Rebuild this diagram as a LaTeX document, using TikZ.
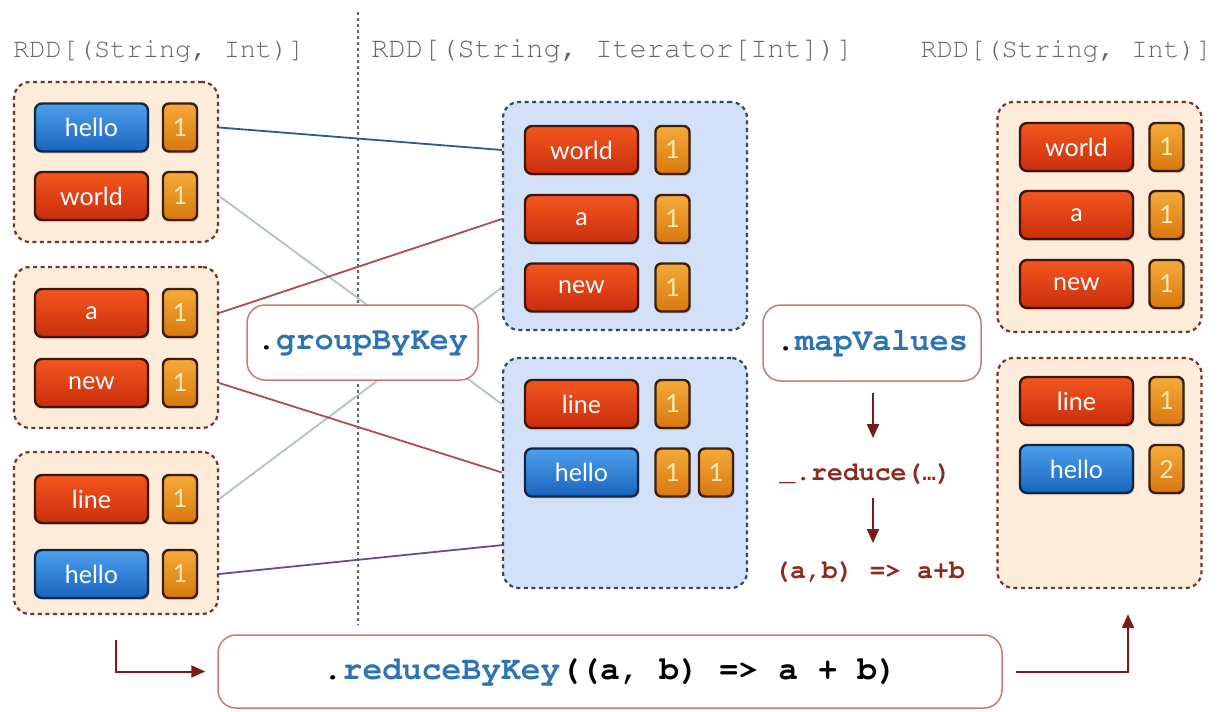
\documentclass[tikz,border=0pt]{standalone}
\usepackage[T1]{fontenc}
\usepackage{fontspec}
\newfontfamily\keyfont{Lato}
\newfontfamily\codefont{Liberation Mono}
\newcommand\cour{\fontencoding{T1}\fontfamily{pcr}\selectfont}
\usetikzlibrary{arrows.meta,shadows}
\pgfdeclarelayer{paper}
\pgfdeclarelayer{links}
\pgfsetlayers{paper,links,main}

\definecolor{redtop}{HTML}{F4561F}
\definecolor{redbot}{HTML}{C92E0C}
\definecolor{redline}{HTML}{3E160A}
\definecolor{bluetop}{HTML}{4CA0EC}
\definecolor{bluebot}{HTML}{1A64BE}
\definecolor{blueline}{HTML}{0E2648}
\definecolor{valtop}{HTML}{F5AA3A}
\definecolor{valbot}{HTML}{D8780E}
\definecolor{valline}{HTML}{3E1E08}
\definecolor{valtext}{HTML}{FDEBB4}
\definecolor{peachfill}{HTML}{FDECD9}
\definecolor{peachline}{HTML}{7A3426}
\definecolor{bluefill}{HTML}{D3E1F8}
\definecolor{blueborder}{HTML}{34466C}
\definecolor{opline}{HTML}{C97A78}
\definecolor{codeblue}{HTML}{2C74B4}
\definecolor{codered}{HTML}{8A2A20}
\definecolor{headgray}{HTML}{666666}
\definecolor{flowred}{HTML}{7A1A1A}
\definecolor{divgray}{HTML}{5A6470}
\definecolor{linkblue}{HTML}{2D5C84}
\definecolor{linkgray}{HTML}{B4C0CC}
\definecolor{linkred}{HTML}{B24C4C}
\definecolor{linkpurple}{HTML}{6A4C8C}

\begin{document}
\begin{tikzpicture}[x=1pt,y=-1pt,
  keybase/.style={rounded corners=7pt, minimum width=113pt, minimum height=48pt,
    inner sep=0pt, line width=2.4pt, text=white,
    font={\keyfont\fontsize{25}{27}\selectfont},
    drop shadow={shadow xshift=1.5pt, shadow yshift=-2pt, opacity=0.25}},
  redkey/.style={keybase, draw=redline, top color=redtop, bottom color=redbot},
  bluekey/.style={keybase, draw=blueline, top color=bluetop, bottom color=bluebot},
  valbox/.style={keybase, minimum width=34pt, rounded corners=6pt, draw=valline,
    top color=valtop, bottom color=valbot, text=valtext},
  grp/.style={rounded corners=16pt, line width=2.2pt, dash pattern=on 4pt off 3.5pt,
    inner sep=0pt},
  peachgrp/.style={grp, fill=peachfill, draw=peachline},
  bluegrp/.style={grp, fill=bluefill, draw=blueborder},
  opbox/.style={draw=opline, line width=1.5pt, fill=white, rounded corners=18pt,
    inner sep=0pt},
  opfont/.style={font={\cour\bfseries\fontsize{32}{34}\selectfont}},
  header/.style={anchor=base, text=headgray, inner sep=0pt},
  redcode/.style={anchor=base, text=codered, inner sep=0pt,
    font={\cour\bfseries\fontsize{26.5}{28}\selectfont}},
  link/.style={line width=1.8pt},
  flow/.style={draw=flowred, line width=2pt, -{Triangle[length=14pt,width=12pt]}},
  divider/.style={draw=divgray, line width=2.6pt, dash pattern=on 3pt off 3pt}
]
\begin{pgfonlayer}{paper}
\useasboundingbox[fill=white] (0,0) rectangle (1218,712);
\end{pgfonlayer}

% column titles
\node[header, font={\cour\fontsize{27}{28}\selectfont}] (h1) at (159,57) {RDD[(String, Int)]};
\node[header, font={\cour\fontsize{28.7}{30}\selectfont}] (h2) at (612.5,57) {RDD[(String, Iterator[Int])]};
\node[header, font={\cour\fontsize{27}{28}\selectfont}] (h3) at (1066.5,57) {RDD[(String, Int)]};

% partition containers
\node[peachgrp, minimum width=204pt, minimum height=160pt] (L1) at (116,162) {};
\node[peachgrp, minimum width=204pt, minimum height=161pt] (L2) at (116,347.5) {};
\node[peachgrp, minimum width=204pt, minimum height=162pt] (L3) at (116,533) {};
\node[bluegrp, minimum width=244pt, minimum height=228pt] (M1) at (625,216) {};
\node[bluegrp, minimum width=244pt, minimum height=230pt] (M2) at (625,473) {};
\node[peachgrp, minimum width=204pt, minimum height=230pt] (R1) at (1099.5,217) {};
\node[peachgrp, minimum width=204pt, minimum height=230pt] (R2) at (1099.5,473) {};

% left partitions
\node[bluekey] (lk1) at (91.5,127.5) {hello};  \node[valbox] (lv1) at (180,127.5) {1};
\node[redkey]  (lk2) at (91.5,196)   {world};  \node[valbox] (lv2) at (180,196) {1};
\node[redkey]  (lk3) at (91.5,313)   {a};      \node[valbox] (lv3) at (180,313) {1};
\node[redkey]  (lk4) at (91.5,383)   {new};    \node[valbox] (lv4) at (180,383) {1};
\node[redkey]  (lk5) at (91.5,499)   {line};   \node[valbox] (lv5) at (180,499) {1};
\node[bluekey] (lk6) at (91.5,574)   {hello};  \node[valbox] (lv6) at (180,574) {1};

% grouped partitions
\node[redkey]  (mk1) at (581.5,150)   {world}; \node[valbox] (mv1) at (672.5,150) {1};
\node[redkey]  (mk2) at (581.5,219)   {a};     \node[valbox] (mv2) at (672.5,219) {1};
\node[redkey]  (mk3) at (581.5,287.5) {new};   \node[valbox] (mv3) at (672.5,287.5) {1};
\node[redkey]  (mk4) at (581.5,404)   {line};  \node[valbox] (mv4) at (672.5,404) {1};
\node[bluekey] (mk5) at (581.5,472.5) {hello}; \node[valbox] (mv5) at (672.5,472.5) {1};
\node[valbox] (mv6) at (716,472.5) {1};

% reduced partitions
\node[redkey]  (rk1) at (1076.5,147) {world}; \node[valbox] (rv1) at (1166.5,147) {1};
\node[redkey]  (rk2) at (1076.5,215) {a};     \node[valbox] (rv2) at (1166.5,215) {1};
\node[redkey]  (rk3) at (1076.5,284) {new};   \node[valbox] (rv3) at (1166.5,284) {1};
\node[redkey]  (rk4) at (1076.5,401) {line};  \node[valbox] (rv4) at (1166.5,401) {1};
\node[bluekey] (rk5) at (1076.5,469) {hello}; \node[valbox] (rv5) at (1166.5,469) {2};

% separator and shuffle links, kept underneath the containers
\coordinate (vtop) at (358,12);
\coordinate (vbot) at (358,625);
\coordinate (m2low) at (503,545);
\begin{pgfonlayer}{links}
\draw[divider] (vtop) -- (vbot);
\draw[link, draw=linkgray]   (L1.east |- lk2) -- (M2.west |- mk4);
\draw[link, draw=linkgray]   (L3.east |- lk5) -- (M1.west |- mk3);
\draw[link, draw=linkblue]   (L1.east |- lk1) -- (M1.west |- mk1);
\draw[link, draw=linkred]    (L2.east |- lk3) -- (M1.west |- mk2);
\draw[link, draw=linkred]    (L2.east |- lk4) -- (M2.west |- mk5);
\draw[link, draw=linkpurple] (L3.east |- lk6) -- (m2low);
\end{pgfonlayer}

% operators
\node[opbox, opfont, minimum width=231pt, minimum height=75pt] (gbk) at (362.5,342.5)
  {\textcolor{black}{.}\textcolor{codeblue}{groupByKey}};
\node[opbox, opfont, minimum width=218pt, minimum height=76pt] (mv) at (872,343)
  {\textcolor{black}{.}\textcolor{codeblue}{mapValues}};
\node[opbox, font={\cour\bfseries\fontsize{33}{35}\selectfont},
  minimum width=784pt, minimum height=73pt] (rbk) at (610,671.5)
  {\textcolor{black}{.}\textcolor{codeblue}{reduceByKey}\textcolor{black}{((a, b) => a + b)}};

% steps inside mapValues
\node[redcode] (red) at (865.5,480) {\_.reduce({\codefont\fontsize{22}{24}\selectfont …})};
\node[redcode] (fn) at (869.5,578) {(a,b) => a+b};
\coordinate (d1s) at (873,393);
\coordinate (d1e) at (873,438);
\coordinate (d2s) at (873,498);
\coordinate (d2e) at (873,543);
\draw[flow] (d1s) -- (d1e);
\draw[flow] (d2s) -- (d2e);

% reduceByKey path
\draw[flow] ([yshift=-25pt]L3.south) |- ([xshift=-12pt]rbk.west);
\draw[flow] ([xshift=13pt]rbk.east) -| ([shift={(28.5pt,-25pt)}]R2.south);
\end{tikzpicture}
\end{document}
